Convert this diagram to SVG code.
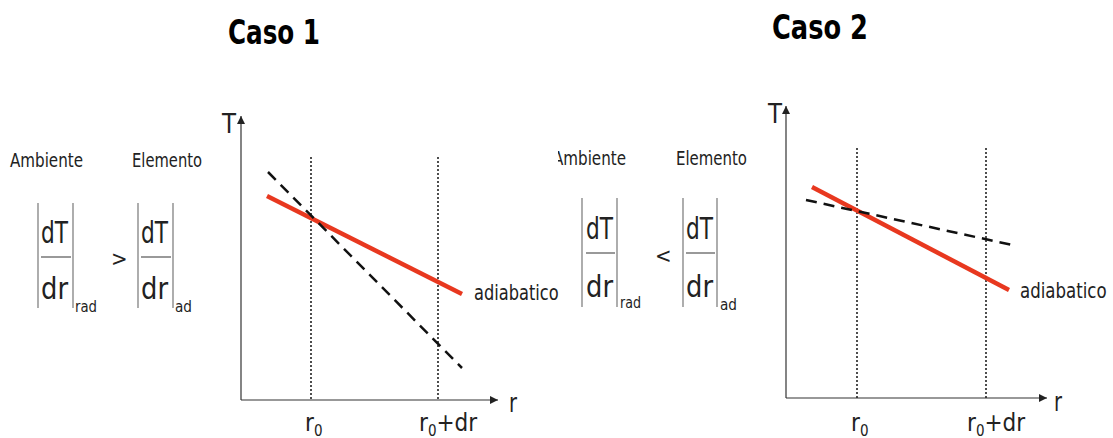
<svg xmlns="http://www.w3.org/2000/svg" width="1113" height="438" viewBox="0 0 1113 438">
<defs>
<style>
text{font-family:"DejaVu Sans Condensed","DejaVu Sans","Liberation Sans",sans-serif;fill:#222}
.title{font-weight:bold;font-size:33px;fill:#000}
.lbl{font-size:19px}
.frac{font-size:30px}
.sub{font-size:16px}
.op{font-size:22px}
.ax{font-size:26px}
.ad{font-size:22px}
.bot{font-size:24px}
.bar{stroke:#777;stroke-width:1.2}
.fl{stroke:#555;stroke-width:1.2}
.axis{stroke:#333;stroke-width:1.2;fill:none}
.dot{stroke:#222;stroke-width:1.6;stroke-dasharray:2 2}
.red{stroke:#e8381f;stroke-width:4.5;stroke-linecap:butt}
.dash{stroke:#111;stroke-width:2.5;stroke-dasharray:11 7}
</style>
<marker id="ah" viewBox="0 0 10 10" refX="10" refY="5" markerWidth="8" markerHeight="8" markerUnits="userSpaceOnUse" orient="auto">
<path d="M0,0 L10,5 L0,10 z" fill="#222"/>
</marker>
<clipPath id="cl2"><rect x="558" y="140" width="100" height="40"/></clipPath>
</defs>
<rect width="1113" height="438" fill="#fff"/>

<g id="title1"><text class="title" x="228" y="44" textLength="92" lengthAdjust="spacingAndGlyphs">Caso  1</text></g>
<g id="title2"><text class="title" x="772" y="39" textLength="96" lengthAdjust="spacingAndGlyphs">Caso  2</text></g>

<g id="formula1">
<text class="lbl" x="10" y="167" textLength="73" lengthAdjust="spacingAndGlyphs">Ambiente</text>
<text class="lbl" x="132" y="167" textLength="70" lengthAdjust="spacingAndGlyphs">Elemento</text>
<line class="bar" x1="38" y1="203" x2="38" y2="308"/>
<line class="bar" x1="73" y1="203" x2="73" y2="308"/>
<text class="frac" x="41" y="243" textLength="27" lengthAdjust="spacingAndGlyphs">dT</text>
<line class="fl" x1="41" y1="257" x2="71" y2="257"/>
<text class="frac" x="41" y="299" textLength="27" lengthAdjust="spacingAndGlyphs">dr</text>
<text class="sub" x="75" y="312" textLength="22" lengthAdjust="spacingAndGlyphs">rad</text>
<text class="op" x="111" y="266">&gt;</text>
<line class="bar" x1="138" y1="203" x2="138" y2="308"/>
<line class="bar" x1="173" y1="203" x2="173" y2="308"/>
<text class="frac" x="141" y="243" textLength="27" lengthAdjust="spacingAndGlyphs">dT</text>
<line class="fl" x1="141" y1="257" x2="171" y2="257"/>
<text class="frac" x="141" y="299" textLength="27" lengthAdjust="spacingAndGlyphs">dr</text>
<text class="sub" x="175" y="312" textLength="17" lengthAdjust="spacingAndGlyphs">ad</text>
</g>

<g id="formula2">
<g clip-path="url(#cl2)"><text class="lbl" x="553" y="165" textLength="73" lengthAdjust="spacingAndGlyphs">Ambiente</text></g>
<text class="lbl" x="676" y="165" textLength="71" lengthAdjust="spacingAndGlyphs">Elemento</text>
<line class="bar" x1="582" y1="198" x2="582" y2="307"/>
<line class="bar" x1="617" y1="198" x2="617" y2="307"/>
<text class="frac" x="586" y="239" textLength="27" lengthAdjust="spacingAndGlyphs">dT</text>
<line class="fl" x1="586" y1="253" x2="615" y2="253"/>
<text class="frac" x="586" y="297" textLength="27" lengthAdjust="spacingAndGlyphs">dr</text>
<text class="sub" x="620" y="308" textLength="21" lengthAdjust="spacingAndGlyphs">rad</text>
<text class="op" x="655" y="263">&lt;</text>
<line class="bar" x1="683" y1="198" x2="683" y2="307"/>
<line class="bar" x1="717" y1="198" x2="717" y2="307"/>
<text class="frac" x="686" y="239" textLength="27" lengthAdjust="spacingAndGlyphs">dT</text>
<line class="fl" x1="686" y1="253" x2="715" y2="253"/>
<text class="frac" x="686" y="297" textLength="27" lengthAdjust="spacingAndGlyphs">dr</text>
<text class="sub" x="720" y="310" textLength="17" lengthAdjust="spacingAndGlyphs">ad</text>
</g>

<g id="graph1">
<line class="axis" x1="241" y1="400" x2="241" y2="116" marker-end="url(#ah)"/>
<line class="axis" x1="241" y1="400" x2="498" y2="400" marker-end="url(#ah)"/>
<text class="ax" x="222" y="133" textLength="14" lengthAdjust="spacingAndGlyphs">T</text>
<text class="ax" x="509" y="412" textLength="8" lengthAdjust="spacingAndGlyphs">r</text>
<line class="dot" x1="311" y1="157" x2="311" y2="400"/>
<line class="dot" x1="438" y1="157" x2="438" y2="400"/>
<line class="red" x1="267" y1="196" x2="462" y2="294"/>
<line class="dash" x1="268" y1="172" x2="462" y2="368"/>
<text class="ad" transform="translate(474,300) scale(0.82,1)" x="0" y="0">adiabatico</text>
<text class="bot" x="305" y="431">r<tspan style="font-size:15px" dy="5">0</tspan></text>
<text class="bot" x="419" y="431">r<tspan style="font-size:15px" dy="5">0</tspan><tspan dy="-5">+dr</tspan></text>
</g>

<g id="graph2">
<line class="axis" x1="786" y1="398" x2="786" y2="106" marker-end="url(#ah)"/>
<line class="axis" x1="786" y1="398" x2="1047" y2="398" marker-end="url(#ah)"/>
<text class="ax" x="768" y="123" textLength="14" lengthAdjust="spacingAndGlyphs">T</text>
<text class="ax" x="1054" y="411" textLength="8" lengthAdjust="spacingAndGlyphs">r</text>
<line class="dot" x1="857" y1="148" x2="857" y2="398"/>
<line class="dot" x1="986" y1="148" x2="986" y2="398"/>
<line class="red" x1="812" y1="187" x2="1009" y2="290"/>
<line class="dash" x1="806" y1="200" x2="1017" y2="246"/>
<text class="ad" transform="translate(1020,298) scale(0.84,1)" x="0" y="0">adiabatico</text>
<text class="bot" x="851" y="431">r<tspan style="font-size:15px" dy="5">0</tspan></text>
<text class="bot" x="967" y="431">r<tspan style="font-size:15px" dy="5">0</tspan><tspan dy="-5">+dr</tspan></text>
</g>
</svg>
